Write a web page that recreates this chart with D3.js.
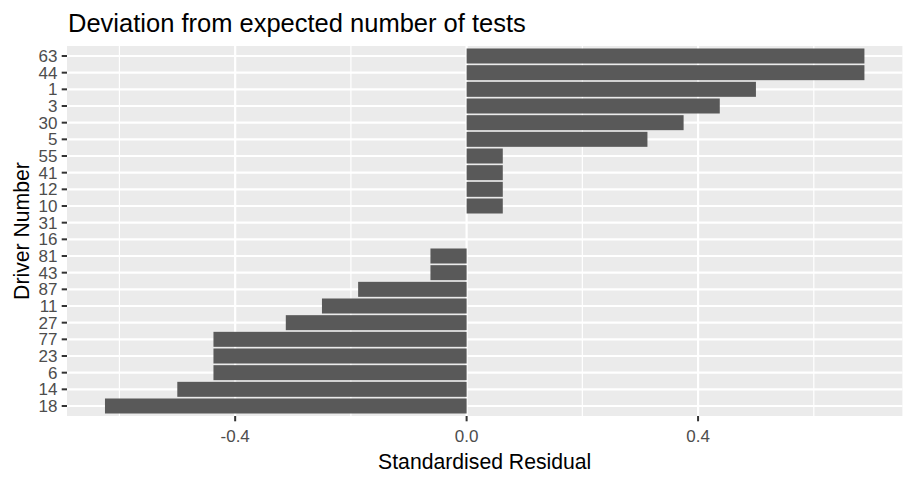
<!DOCTYPE html>
<html>
<head>
<meta charset="utf-8">
<script src="https://cdn.jsdelivr.net/npm/d3@7"></script>
<style>
  body { margin: 0; background: #fff; }
  svg { display: block; font-family: "Liberation Sans", Arial, sans-serif; }
</style>
</head>
<body>
<div id="chart"></div>
<script>
// driver numbers, top to bottom as drawn
const drivers = ["63", "44", "1", "3", "30", "5", "55", "41", "12", "10", "31",
                 "16", "81", "43", "87", "11", "27", "77", "23", "6", "14", "18"];
// standardised residuals
const residuals = [0.6875, 0.6875, 0.5, 0.4375, 0.375, 0.3125, 0.0625, 0.0625, 0.0625, 0.0625, 0,
                   0, -0.0625, -0.0625, -0.1875, -0.25, -0.3125, -0.4375, -0.4375, -0.4375, -0.5, -0.625];
const xTicks = [-0.4, 0, 0.4];
const xTickLabels = ["-0.4", "0.0", "0.4"];
const xMinor = [-0.6, -0.2, 0.2, 0.6];

const width = 913, height = 483;
const panel = {left: 67, right: 902.4, top: 46, bottom: 416};

const svg = d3.select("#chart").append("svg")
    .attr("width", width)
    .attr("height", height);

// ggplot style 5% expansion
const ext = d3.extent(residuals);
const pad = (ext[1] - ext[0]) * 0.05;
const x = d3.scaleLinear()
    .domain([ext[0] - pad, ext[1] + pad])
    .range([panel.left, panel.right]);

const y = d3.scalePoint()
    .domain(drivers)
    .range([panel.top, panel.bottom])
    .padding(0.6);
const barH = y.step() * 0.9;

svg.append("rect")
    .attr("x", panel.left)
    .attr("y", panel.top)
    .attr("width", panel.right - panel.left)
    .attr("height", panel.bottom - panel.top)
    .attr("fill", "#EBEBEB");

const grid = svg.append("g").attr("stroke", "#fff");
grid.selectAll(".minor")
    .data(xMinor)
    .join("line")
    .attr("x1", d => x(d)).attr("x2", d => x(d))
    .attr("y1", panel.top).attr("y2", panel.bottom)
    .attr("stroke-width", 1.2);
grid.selectAll(".majx")
    .data(xTicks)
    .join("line")
    .attr("x1", d => x(d)).attr("x2", d => x(d))
    .attr("y1", panel.top).attr("y2", panel.bottom)
    .attr("stroke-width", 2.2);
grid.selectAll(".majy")
    .data(drivers)
    .join("line")
    .attr("x1", panel.left).attr("x2", panel.right)
    .attr("y1", d => y(d)).attr("y2", d => y(d))
    .attr("stroke-width", 2.2);

svg.append("g")
    .selectAll("rect")
    .data(drivers)
    .join("rect")
    .attr("x", (d, i) => x(Math.min(0, residuals[i])))
    .attr("width", (d, i) => Math.abs(x(residuals[i]) - x(0)))
    .attr("y", d => y(d) - barH / 2)
    .attr("height", barH)
    .attr("fill", "#595959");

// y axis
const yAxis = svg.append("g");
yAxis.selectAll("line")
    .data(drivers)
    .join("line")
    .attr("x1", panel.left - 5.3).attr("x2", panel.left)
    .attr("y1", d => y(d)).attr("y2", d => y(d))
    .attr("stroke", "#333").attr("stroke-width", 2);
yAxis.selectAll("text")
    .data(drivers)
    .join("text")
    .attr("x", panel.left - 9.5)
    .attr("y", d => y(d))
    .attr("dy", "0.36em")
    .attr("text-anchor", "end")
    .attr("fill", "#4D4D4D")
    .style("font-size", "17px")
    .text(d => d);

// x axis
const xAxis = svg.append("g");
xAxis.selectAll("line")
    .data(xTicks)
    .join("line")
    .attr("x1", d => x(d)).attr("x2", d => x(d))
    .attr("y1", panel.bottom).attr("y2", panel.bottom + 5.3)
    .attr("stroke", "#333").attr("stroke-width", 2);
xAxis.selectAll("text")
    .data(xTicks)
    .join("text")
    .attr("x", d => x(d))
    .attr("y", 441.7)
    .attr("text-anchor", "middle")
    .attr("fill", "#4D4D4D")
    .style("font-size", "17px")
    .text((d, i) => xTickLabels[i]);

svg.append("text")
    .attr("x", (panel.left + panel.right) / 2)
    .attr("y", 469.3)
    .attr("text-anchor", "middle")
    .style("font-size", "21.2px")
    .text("Standardised Residual");

svg.append("text")
    .attr("transform", `translate(28.5,${(panel.top + panel.bottom) / 2}) rotate(-90)`)
    .attr("text-anchor", "middle")
    .style("font-size", "21.2px")
    .text("Driver Number");

svg.append("text")
    .attr("x", panel.left + 1)
    .attr("y", 31.6)
    .style("font-size", "25.5px")
    .text("Deviation from expected number of tests");
</script>
</body>
</html>
